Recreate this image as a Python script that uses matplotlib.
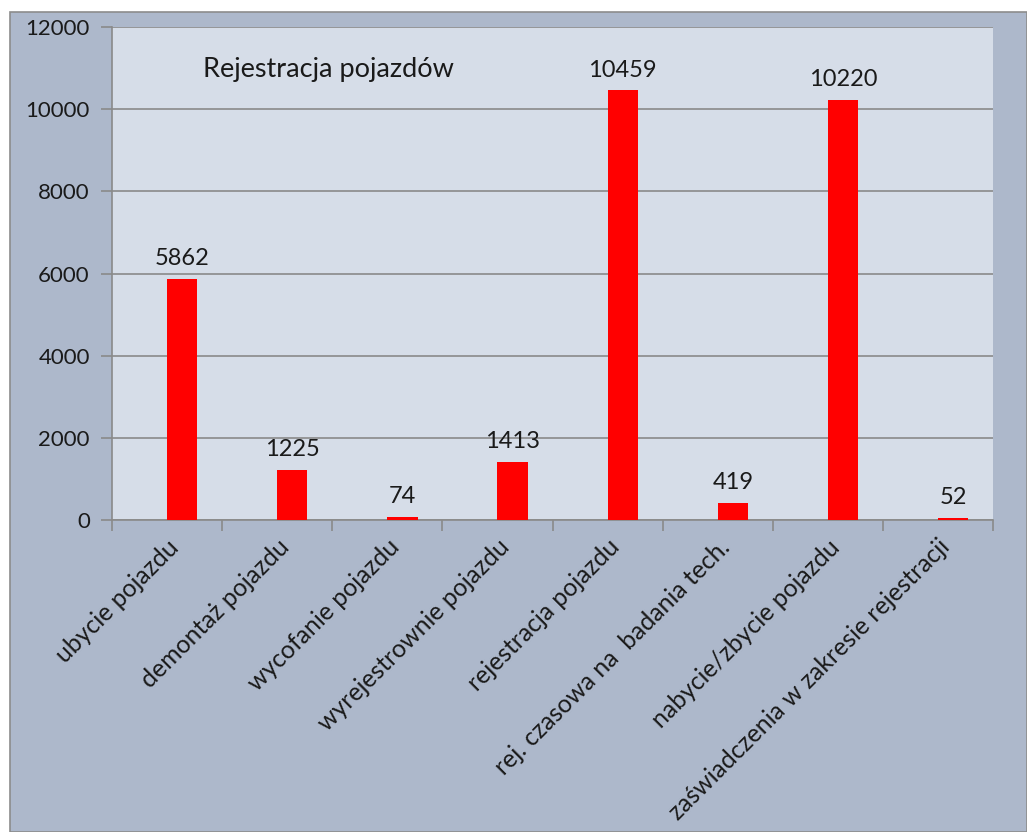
import numpy as np
import matplotlib.pyplot as plt
from matplotlib.patches import Rectangle

# data
categories = ['ubycie pojazdu', 'demontaż pojazdu', 'wycofanie pojazdu',
              'wyrejestrownie pojazdu', 'rejestracja pojazdu',
              'rej. czasowa na  badania tech.', 'nabycie/zbycie pojazdu',
              'zaświadczenia w zakresie rejestracji']
values = [5862, 1225, 74, 1413, 10459, 419, 10220, 52]
y_ticks = [0, 2000, 4000, 6000, 8000, 10000, 12000]
title = 'Rejestracja pojazdów'

plt.rcParams['font.family'] = ['Lato', 'DejaVu Sans']

outer_bg = '#adb8cb'
plot_bg = '#d6dde8'
grid_col = '#8a8a8a'
text_col = '#1a1a1a'

fig = plt.figure(figsize=(10.27, 8.32), dpi=100)
fig.patch.set_facecolor('white')
# chart area frame
fig.patches.append(Rectangle((10 / 1027, 0), 1 - 10 / 1027, (832 - 12) / 832,
                             transform=fig.transFigure, facecolor=outer_bg,
                             edgecolor='#8c8c8c', linewidth=1.2, zorder=-10))

ax = fig.add_axes([112 / 1027, (832 - 520) / 832, (993 - 112) / 1027, (520 - 27) / 832])
ax.set_facecolor(plot_bg)

x = np.arange(len(categories))
bar_w = 0.275
bars = ax.bar(x + bar_w / 2, values, width=bar_w, color='#ff0000', zorder=3)

for xi, v in zip(x, values):
    ax.annotate(str(v), (xi + bar_w / 2, v), xytext=(0, 7), textcoords='offset points',
                ha='center', va='bottom', fontsize=17, color=text_col)

ax.set_xlim(-0.5, len(categories) - 0.5)
ax.set_ylim(0, 12000)
ax.set_yticks(y_ticks)
ax.set_yticklabels([str(t) for t in y_ticks], fontsize=16, color=text_col)
ax.yaxis.grid(True, color=grid_col, linewidth=1.2, zorder=1)
ax.set_axisbelow(True)

# category ticks on boundaries, labels at centres
ax.set_xticks(np.arange(len(categories) + 1) - 0.5, minor=False)
ax.set_xticklabels([])
ax.set_xticks(x, minor=True)
ax.set_xticklabels(categories, minor=True, rotation=45, ha='right',
                   rotation_mode='anchor', fontsize=17.8, color=text_col)
ax.tick_params(axis='x', which='minor', length=0, pad=11)
ax.tick_params(axis='x', which='major', length=8, color=grid_col, width=1.2)
ax.tick_params(axis='y', length=8, color=grid_col, width=1.2, pad=8)

for side in ['top', 'right']:
    ax.spines[side].set_visible(False)
for side in ['left', 'bottom']:
    ax.spines[side].set_color(grid_col)
    ax.spines[side].set_linewidth(1.2)

ax.text(0.103, 0.913, title, transform=ax.transAxes, fontsize=19.5,
        ha='left', va='center', color=text_col)

fig.savefig('out.png', dpi=100, facecolor=fig.get_facecolor())
